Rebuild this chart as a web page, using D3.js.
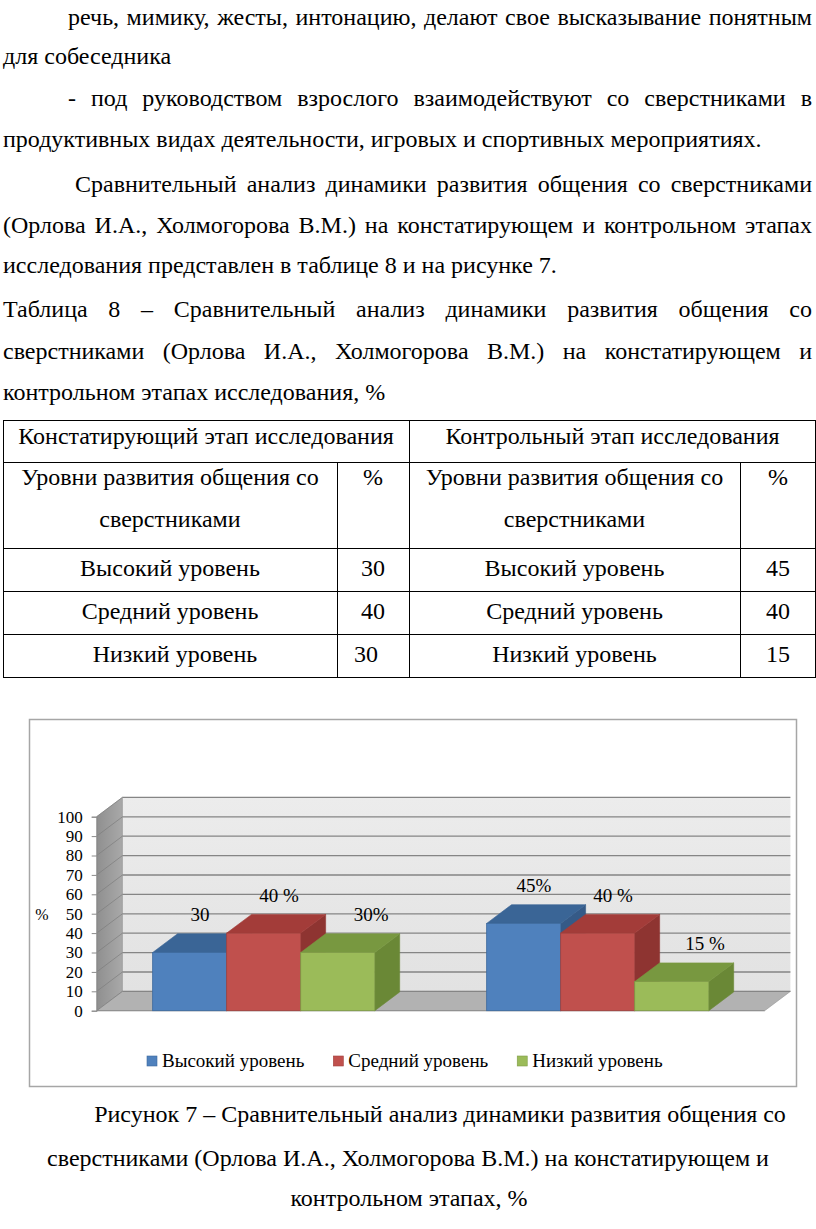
<!DOCTYPE html>
<html><head><meta charset="utf-8">
<script src="https://cdn.jsdelivr.net/npm/d3@7"></script>
<style>
body{margin:0;background:#fff}
svg{display:block}
text{font-family:"Liberation Serif","Times New Roman",serif;fill:#000}
</style>
</head><body>
<svg id="page" width="816" height="1229"></svg>
<script>
// ---------- data ----------
const categories = ["Констатирующий этап", "Контрольный этап"];
const seriesNames = ["Высокий уровень", "Средний уровень", "Низкий уровень"];
const valuesHigh = [30, 45];
const valuesMid = [40, 40];
const valuesLow = [30, 15];
const labelsHigh = ["30", "45%"];
const labelsMid = ["40 %", "40 %"];
const labelsLow = ["30%", "15 %"];
const yTickValues = [0, 10, 20, 30, 40, 50, 60, 70, 80, 90, 100];
const yAxisTitle = "%";

const tableHead1 = ["Констатирующий этап исследования", "Контрольный этап исследования"];
const tableHead2a = "Уровни развития общения со";
const tableHead2b = "сверстниками";
const tableLevels = ["Высокий уровень", "Средний уровень", "Низкий уровень"];
const tableBefore = [30, 40, 30];
const tableAfter = [45, 40, 15];

const bodyLines = [
  "речь, мимику, жесты, интонацию, делают свое высказывание понятным",
  "для собеседника",
  "- под руководством взрослого взаимодействуют со сверстниками в",
  "продуктивных видах деятельности, игровых и спортивных мероприятиях.",
  "Сравнительный анализ динамики развития общения со сверстниками",
  "(Орлова И.А., Холмогорова В.М.) на констатирующем и контрольном этапах",
  "исследования представлен в таблице 8 и на рисунке 7.",
  "Таблица 8 – Сравнительный анализ динамики развития общения со",
  "сверстниками (Орлова И.А., Холмогорова В.М.) на констатирующем и",
  "контрольном этапах исследования, %"
];
const captionLines = [
  "Рисунок 7 – Сравнительный анализ динамики развития общения со",
  "сверстниками (Орлова И.А., Холмогорова В.М.) на констатирующем и",
  "контрольном этапах, %"
];

// ---------- layout ----------
const svg = d3.select("#page");
svg.append("rect").attr("width", 816).attr("height", 1229).attr("fill", "#fff");

const FS = 24;
// [x start, x end (null = natural), baseline]
const bodyLayout = [
  [68, 812, 25], [3, null, 64], [68, 812, 106], [3, null, 147],
  [75, 812, 192], [3, 812, 233], [3, null, 273],
  [3, 812, 317], [3, 812, 359], [3, null, 400]
];
const measurer = svg.append("text").attr("font-size", FS).attr("x", -1000).attr("y", -1000);
function wordWidth(w) { measurer.text(w); return measurer.node().getComputedTextLength(); }
bodyLines.forEach((t, i) => {
  const [a, b, yb] = bodyLayout[i];
  const txt = svg.append("text").attr("y", yb).attr("font-size", FS);
  if (b === null) { txt.attr("x", a).text(t); return; }
  const words = t.split(" ");
  const widths = words.map(wordWidth);
  const gap = (b - a - d3.sum(widths)) / (words.length - 1);
  let cx = a;
  words.forEach((w, k) => {
    txt.append("tspan").attr("x", cx).text(w);
    cx += widths[k] + gap;
  });
});
measurer.remove();

// table
const T = {l: 3, r: 816, rows: [420, 462, 548, 591, 634, 677], c1: 337, c2: 409, c3: 740};
const tg = svg.append("g").attr("stroke", "#000").attr("stroke-width", 1);
T.rows.forEach(y => tg.append("line").attr("x1", T.l).attr("x2", T.r).attr("y1", y + 0.5).attr("y2", y + 0.5));
[T.l, T.c2, T.r - 1].forEach(x => tg.append("line").attr("x1", x + 0.5).attr("x2", x + 0.5).attr("y1", T.rows[0]).attr("y2", T.rows[5]));
[T.c1, T.c3].forEach(x => tg.append("line").attr("x1", x + 0.5).attr("x2", x + 0.5).attr("y1", T.rows[1]).attr("y2", T.rows[5]));

function ctext(x, y, t) {
  svg.append("text").attr("x", x).attr("y", y).attr("font-size", FS).attr("text-anchor", "middle").text(t);
}
ctext((T.l + T.c2) / 2, 444, tableHead1[0]);
ctext((T.c2 + T.r) / 2, 444, tableHead1[1]);
ctext((T.l + T.c1) / 2, 485, tableHead2a);
ctext((T.l + T.c1) / 2, 527, tableHead2b);
ctext((T.c2 + T.c3) / 2, 485, tableHead2a);
ctext((T.c2 + T.c3) / 2, 527, tableHead2b);
ctext((T.c1 + T.c2) / 2, 485, "%");
ctext((T.c3 + T.r) / 2, 485, "%");
tableLevels.forEach((lv, i) => {
  const y = T.rows[i + 2] + 28;
  ctext((T.l + T.c1) / 2 + (i === 2 ? 5 : 0), y, lv);
  ctext((T.c2 + T.c3) / 2, y, lv);
  ctext((T.c1 + T.c2) / 2 + (i === 2 ? -7 : 0), y, String(tableBefore[i]));
  ctext((T.c3 + T.r) / 2, y, String(tableAfter[i]));
});

// ---------- chart ----------
svg.append("rect").attr("x", 29.5).attr("y", 719.5).attr("width", 767).attr("height", 367)
  .attr("fill", "#fff").attr("stroke", "#a6a6a6").attr("stroke-width", 1.5);

const X0 = 96.7, X1 = 764.7, Y0 = 1010.7, Y100 = 816.7, DX = 25.7, DY = -19.3;
const y = d3.scaleLinear().domain([0, 100]).range([Y0, Y100]);
const x0 = d3.scaleBand().domain(categories).range([X0, X1]).paddingInner(0.335).paddingOuter(0.1675);
const x1 = d3.scaleBand().domain(seriesNames).range([0, x0.bandwidth()]);

const defs = svg.append("defs");
const gWall = defs.append("linearGradient").attr("id", "wall").attr("x1", 0).attr("y1", 0).attr("x2", 0).attr("y2", 1);
gWall.append("stop").attr("offset", 0).attr("stop-color", "#ececec");
gWall.append("stop").attr("offset", 1).attr("stop-color", "#e2e2e2");
const gSide = defs.append("linearGradient").attr("id", "side").attr("x1", 0).attr("y1", 0).attr("x2", 1).attr("y2", 0);
gSide.append("stop").attr("offset", 0).attr("stop-color", "#8f8f8f");
gSide.append("stop").attr("offset", 1).attr("stop-color", "#a9a9a9");

const poly = pts => "M" + pts.map(p => p.join(",")).join("L") + "Z";

const chart = svg.append("g");
chart.append("path").attr("d", poly([[X0 + DX, y(0) + DY], [X1 + DX, y(0) + DY], [X1 + DX, y(100) + DY], [X0 + DX, y(100) + DY]]))
  .attr("fill", "url(#wall)");
chart.append("path").attr("d", poly([[X0, y(0)], [X0, y(100)], [X0 + DX, y(100) + DY], [X0 + DX, y(0) + DY]]))
  .attr("fill", "url(#side)").attr("stroke", "#8a8a8a").attr("stroke-width", 0.6);
chart.append("path").attr("d", poly([[X0, y(0)], [X1, y(0)], [X1 + DX, y(0) + DY], [X0 + DX, y(0) + DY]]))
  .attr("fill", "#b2b2b2").attr("stroke", "#9a9a9a").attr("stroke-width", 0.6);
chart.selectAll("line.grid").data(yTickValues).join("line").attr("class", "grid")
  .attr("x1", X0 + DX).attr("x2", X1 + DX).attr("y1", d => y(d) + DY).attr("y2", d => y(d) + DY)
  .attr("stroke", "#858585").attr("stroke-width", 1.3);
chart.selectAll("line.sgrid").data(yTickValues).join("line").attr("class", "sgrid")
  .attr("x1", X0).attr("x2", X0 + DX).attr("y1", d => y(d)).attr("y2", d => y(d) + DY)
  .attr("stroke", "#7c7c7c").attr("stroke-width", 0.7);
chart.append("line").attr("x1", X0).attr("x2", X1).attr("y1", Y0).attr("y2", Y0).attr("stroke", "#8a8a8a").attr("stroke-width", 1);

const yAxis = d3.axisLeft(y).tickValues(yTickValues).tickSize(5).tickPadding(9);
const ga = chart.append("g").attr("transform", `translate(${X0},0)`).call(yAxis);
ga.select(".domain").attr("stroke", "#8a8a8a");
ga.selectAll(".tick line").attr("stroke", "#8a8a8a");
ga.selectAll(".tick text").attr("font-size", 17).attr("font-family", '"Liberation Serif",serif').attr("fill", "#000");
chart.append("text").attr("x", 42).attr("y", (y(0) + y(100)) / 2 + 6).attr("font-size", 16)
  .attr("font-family", '"Liberation Serif",serif').attr("text-anchor", "middle").text(yAxisTitle);

const palette = {
  "Высокий уровень": {front: "#4f81bd", top: "#3a6596", side: "#355a87", stroke: "#3d6a9e"},
  "Средний уровень": {front: "#c0504d", top: "#a33c39", side: "#8e3431", stroke: "#a0403d"},
  "Низкий уровень": {front: "#9bbb59", top: "#789840", side: "#6a8836", stroke: "#7f9c47"}
};
const seriesValues = [valuesHigh, valuesMid, valuesLow];
const seriesLabels = [labelsHigh, labelsMid, labelsLow];
const bars = [];
categories.forEach((c, ci) => {
  seriesNames.forEach((s, si) => {
    bars.push({cat: c, ser: s, si: si, value: seriesValues[si][ci], label: seriesLabels[si][ci]});
  });
});
const BDX = DX * 0.97, BDY = DY * 0.97;
const bg = chart.append("g");
bars.forEach(d => {
  const xa = x0(d.cat) + x1(d.ser), w = x1.bandwidth(), yt = y(d.value), yb = y(0);
  const col = palette[d.ser];
  bg.append("path").attr("d", poly([[xa + w, yt], [xa + w + BDX, yt + BDY], [xa + w + BDX, yb + BDY], [xa + w, yb]]))
    .attr("fill", col.side).attr("stroke", col.side).attr("stroke-width", 0.6);
  bg.append("path").attr("d", poly([[xa, yt], [xa + w, yt], [xa + w + BDX, yt + BDY], [xa + BDX, yt + BDY]]))
    .attr("fill", col.top).attr("stroke", col.top).attr("stroke-width", 0.6);
  bg.append("rect").attr("x", xa).attr("y", yt).attr("width", w).attr("height", yb - yt)
    .attr("fill", col.front).attr("stroke", col.stroke).attr("stroke-width", 0.8);
});
// data labels (label nudge per series, as placed in the original)
const labelShift = [0.4, 0.6, 1.3];
bars.forEach(d => {
  const cx = x0(d.cat) + x1(d.ser) + x1.bandwidth() / 2 + DX * labelShift[d.si];
  chart.append("text").attr("x", cx).attr("y", y(d.value) + DY - 12)
    .attr("font-size", 19).attr("text-anchor", "middle").attr("fill", "#1a1a1a").text(d.label);
});

// legend
const lg = chart.append("g").attr("transform", "translate(147,1056)");
let lx = 0;
seriesNames.forEach(s => {
  const it = lg.append("g").attr("transform", `translate(${lx},0)`);
  it.append("rect").attr("width", 10).attr("height", 10).attr("fill", palette[s].front).attr("stroke", palette[s].stroke).attr("stroke-width", 0.6);
  const t = it.append("text").attr("x", 15).attr("y", 11).attr("font-size", 19).text(s);
  lx += 15 + t.node().getComputedTextLength() + 29;
});

// caption
svg.append("text").attr("x", 440).attr("y", 1122).attr("font-size", FS).attr("text-anchor", "middle").text(captionLines[0]);
svg.append("text").attr("x", 408).attr("y", 1166).attr("font-size", FS).attr("text-anchor", "middle").text(captionLines[1]);
svg.append("text").attr("x", 409).attr("y", 1206).attr("font-size", FS).attr("text-anchor", "middle").text(captionLines[2]);
</script>
</body></html>
